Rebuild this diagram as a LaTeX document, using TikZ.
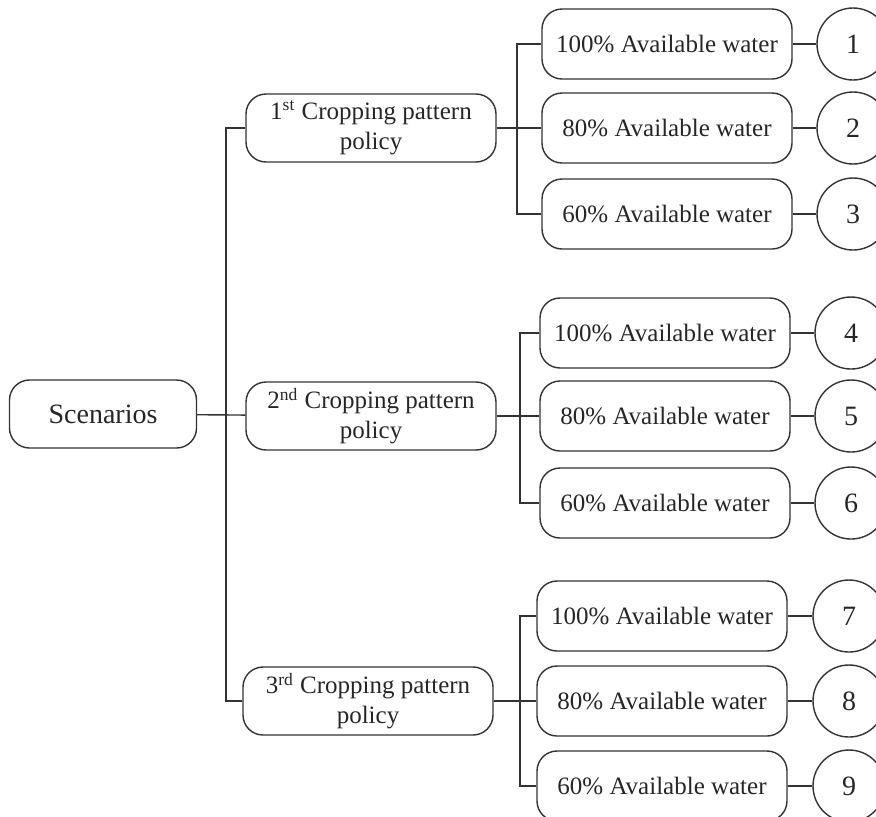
\documentclass[tikz,border=0pt]{standalone}
\usepackage{fontspec}
\setmainfont{Liberation Serif}
\begin{document}
\begin{tikzpicture}[x=0.5pt, y=-0.5pt, line width=0.7pt, draw=black!80,
    rbox/.style={draw=black!80, rounded corners=10pt, minimum height=34pt, align=center, inner sep=0pt},
    wbox/.style={rbox, minimum width=125pt, minimum height=35pt},
    pbox/.style={rbox, minimum width=125pt},
    numc/.style={draw=black!80, circle, minimum size=36pt, inner sep=0pt, font=\fontsize{14}{16}\selectfont},
    every node/.style={font=\fontsize{12.5}{15}\selectfont, text=black!85}]
      \useasboundingbox (0,0) rectangle (876,816);

      \node[rbox, minimum width=93.5pt, font=\fontsize{14}{16}\selectfont] (SC) at (103, 414) {Scenarios};

      \node[pbox] (P1) at (371, 128) {1\textsuperscript{st} Cropping pattern\\policy};
      \node[pbox] (P2) at (371, 416) {2\textsuperscript{nd} Cropping pattern\\policy};
      \node[pbox] (P3) at (368, 701) {3\textsuperscript{rd} Cropping pattern\\policy};

      \node[wbox] (W1) at (667, 44) {100\% Available water};
      \node[wbox] (W2) at (667, 128) {80\% Available water};
      \node[wbox] (W3) at (667, 214) {60\% Available water};
      \node[wbox] (W4) at (665, 333) {100\% Available water};
      \node[wbox] (W5) at (665, 416) {80\% Available water};
      \node[wbox] (W6) at (665, 503) {60\% Available water};
      \node[wbox] (W7) at (662, 616) {100\% Available water};
      \node[wbox] (W8) at (662, 701) {80\% Available water};
      \node[wbox] (W9) at (662, 786) {60\% Available water};

      \node[numc] (N1) at (853, 44) {1};
      \node[numc] (N2) at (853, 128) {2};
      \node[numc] (N3) at (853, 214) {3};
      \node[numc] (N4) at (851, 333) {4};
      \node[numc] (N5) at (851, 416) {5};
      \node[numc] (N6) at (851, 503) {6};
      \node[numc] (N7) at (849, 616) {7};
      \node[numc] (N8) at (849, 701) {8};
      \node[numc] (N9) at (849, 786) {9};

      \coordinate (T) at (226, 414);
      \coordinate (B1) at (517, 128);
      \coordinate (B2) at (520, 416);
      \coordinate (B3) at (520, 701);

      \draw (SC) -- (P2);
      \draw (P1.west) -| (T) |- (P3.west);

      \draw (P1) -- (W2);
      \draw (P2) -- (W5);
      \draw (P3) -- (W8);
      \draw (W1.west) -| (B1) |- (W3.west);
      \draw (W4.west) -| (B2) |- (W6.west);
      \draw (W7.west) -| (B3) |- (W9.west);

      \draw (W1) -- (N1);
      \draw (W2) -- (N2);
      \draw (W3) -- (N3);
      \draw (W4) -- (N4);
      \draw (W5) -- (N5);
      \draw (W6) -- (N6);
      \draw (W7) -- (N7);
      \draw (W8) -- (N8);
      \draw (W9) -- (N9);
    \end{tikzpicture}
\end{document}
